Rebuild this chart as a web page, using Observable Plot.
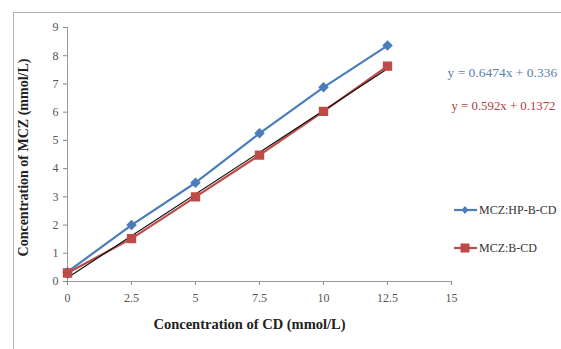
<!DOCTYPE html>
<html><head><meta charset="utf-8">
<script src="https://cdn.jsdelivr.net/npm/d3@7"></script>
<script src="https://cdn.jsdelivr.net/npm/@observablehq/plot@0.6"></script>
<style>
body{margin:0;background:#fff;}
#wrap{position:relative;width:561px;height:349px;overflow:hidden;background:#fff;}
#frame{position:absolute;left:13px;top:12px;width:600px;height:400px;border:1.5px solid #b0b0b0;}
.leg{position:absolute;font-family:'Liberation Serif','DejaVu Serif',serif;font-size:12px;color:#333;display:flex;align-items:center;white-space:nowrap;}
.leg svg{margin-right:1px;}
svg text{font-family:'Liberation Serif','DejaVu Serif',serif !important;}
</style></head>
<body><div id="wrap"><div id="frame"></div></div>
<script>
const cdConc = [0, 2.5, 5, 7.5, 10, 12.5];
const hpbcd = [0.34, 2.0, 3.5, 5.25, 6.88, 8.36];
const bcd = [0.3, 1.52, 3.0, 4.48, 6.03, 7.63];
const seriesNames = ["MCZ:HP-B-CD", "MCZ:B-CD"];
const equations = ["y = 0.6474x + 0.336", "y = 0.592x + 0.1372"];
const trendSlope = 0.592, trendIntercept = 0.1372;
const xTicks = [0, 2.5, 5, 7.5, 10, 12.5, 15];
const yTicks = [0,1,2,3,4,5,6,7,8,9];
const xTitle = "Concentration of CD (mmol/L)";
const yTitle = "Concentration of MCZ (mmol/L)";

const blue = "#4a7ebb", red = "#be4b48";
const A = cdConc.map((x,i)=>({x, y: hpbcd[i]}));
const B = cdConc.map((x,i)=>({x, y: bcd[i]}));
const trend = [cdConc[0], cdConc[cdConc.length-1]].map(x=>({x, y: trendSlope*x+trendIntercept}));

const serif = "'Liberation Serif', 'DejaVu Serif', serif";
const chart = Plot.plot({
  width: 561, height: 349,
  marginLeft: 67, marginRight: 110, marginTop: 27, marginBottom: 68,
  style: {fontFamily: serif, background: "transparent", overflow: "visible"},
  x: {domain: [0, 15]},
  y: {domain: [0, 9]},
  marks: [
    Plot.axisY({ticks: yTicks, tickSize: 4, tickPadding: 5, fontSize: 12, label: null, stroke: "#888", color: "#555"}),
    Plot.axisX({ticks: xTicks, tickSize: 4, tickPadding: 8, fontSize: 12, label: null, stroke: "#888", color: "#555", tickFormat: d => String(d)}),
    Plot.ruleX([0], {stroke: "#999", strokeWidth: 1}),
    Plot.ruleY([0], {stroke: "#999", strokeWidth: 1}),
    Plot.line(A, {x: "x", y: "y", stroke: blue, strokeWidth: 2.2}),
    Plot.line(B, {x: "x", y: "y", stroke: red, strokeWidth: 2.2}),
    Plot.line(trend, {x: "x", y: "y", stroke: "#111", strokeWidth: 1.2}),
    Plot.dot(A, {x: "x", y: "y", symbol: "diamond2", r: 3.8, fill: blue, stroke: blue}),
    Plot.dot(B, {x: "x", y: "y", symbol: "square2", r: 5, fill: red, stroke: red}),
    Plot.text([equations[0]], {frameAnchor: "top-right", textAnchor: "start", dx: -4, dy: 40, fill: "#5a7fa8", fontSize: 13.5}),
    Plot.text([equations[1]], {frameAnchor: "top-right", textAnchor: "start", dx: 0, dy: 73, fill: "#b04040", fontSize: 12.8}),
    Plot.text([xTitle], {frameAnchor: "bottom", dy: 47, dx: -10, fontWeight: "bold", fontSize: 14.5, fill: "#222"}),
    Plot.text([yTitle], {frameAnchor: "left", textAnchor: "middle", dx: -44, dy: 3, rotate: -90, fontWeight: "bold", fontSize: 14, fill: "#222"})
  ]
});
chart.style.position = "absolute";
chart.style.left = "0px";
chart.style.top = "0px";
const wrap = document.getElementById("wrap");
wrap.appendChild(chart);

function legendItem(name, color, shape, top) {
  const d = document.createElement("div");
  d.className = "leg";
  d.style.left = "453px";
  d.style.top = (top - 8) + "px";
  const mk = shape === "diamond"
    ? `<path d="M12 4 L15.5 8 L12 12 L8.5 8Z" fill="${color}"/>`
    : `<rect x="7.5" y="3.5" width="9" height="9" fill="${color}"/>`;
  d.innerHTML = `<svg width="25" height="16"><line x1="1" y1="8" x2="24" y2="8" stroke="${color}" stroke-width="2.2"/>${mk}</svg><span>${name}</span>`;
  wrap.appendChild(d);
}
legendItem(seriesNames[0], blue, "diamond", 210);
legendItem(seriesNames[1], red, "square", 248);
</script></body></html>
